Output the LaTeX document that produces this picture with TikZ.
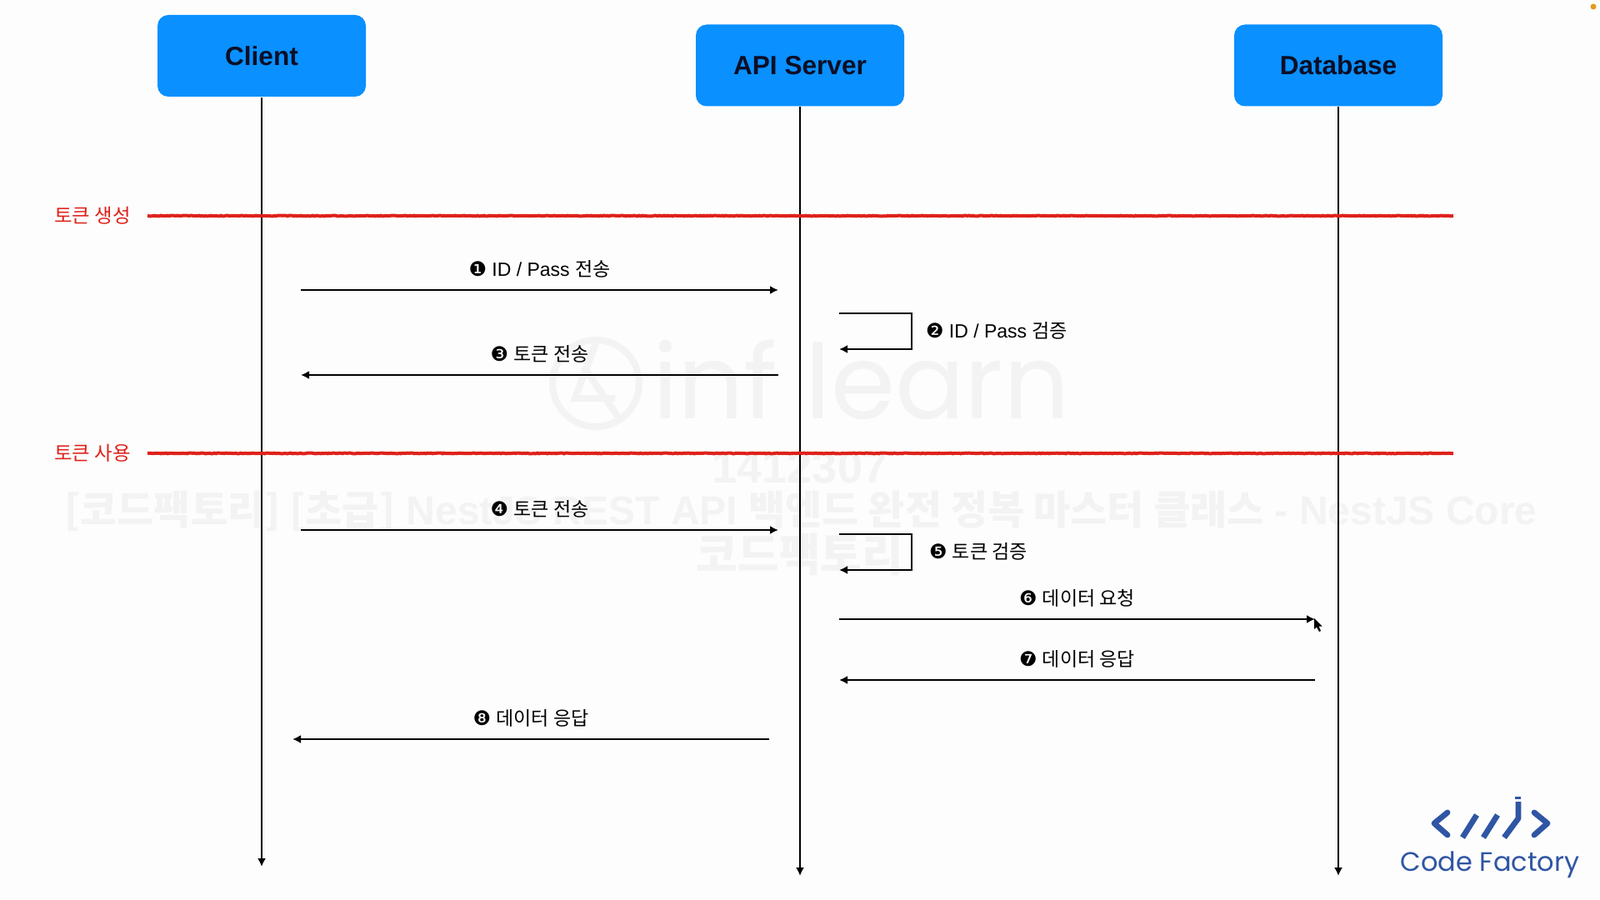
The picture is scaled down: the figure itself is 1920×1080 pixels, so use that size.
\documentclass[tikz,border=0pt]{standalone}
\usepackage{fontspec}
\setmainfont{Liberation Sans}
\setsansfont{Liberation Sans}
\newfontfamily\krfont{Noto Sans CJK KR}
\newfontfamily\symfont{DejaVu Sans}
\newfontfamily\logofont{Poppins}
\usetikzlibrary{arrows.meta, positioning, calc, decorations.pathmorphing}
\definecolor{cblue}{HTML}{0A90FF}
\definecolor{cred}{HTML}{DE221B}
\definecolor{cink}{HTML}{0B0F26}
\definecolor{clogo}{HTML}{2F55A4}
\definecolor{cpaper}{HTML}{FDFDFD}
\definecolor{cshade}{HTML}{F3F3F3}
\definecolor{cdot}{HTML}{E59A1E}
\newcommand{\kr}[1]{{\krfont #1}}
\newcommand{\circnum}[1]{{\symfont\fontsize{12}{14}\selectfont #1}}
\tikzset{
  every picture/.style={font=\sffamily, line width=1pt, x=0.5pt, y=-0.5pt},
  actor/.style={fill=cblue, rounded corners=6.5pt, minimum width=125pt, minimum height=49pt, inner sep=0pt, text=cink, font=\sffamily\bfseries\fontsize{15.8}{18}\selectfont},
  lifeline/.style={-{Latex[length=5pt, width=5pt]}, draw=black},
  arrow/.style={-{Latex[length=5pt, width=5pt]}, draw=black},
  phase/.style={draw=cred, line width=2pt, decorate, decoration={random steps, segment length=1pt, amplitude=0.2pt}},
  phaselabel/.style={text=cred, font=\krfont\fontsize{11.7}{14}\selectfont},
  msg/.style={font=\sffamily\fontsize{11.5}{14}\selectfont, inner sep=0pt},
  mark line/.style={draw=clogo, line width=3.4pt},
  wm/.style={text=cshade, font=\bfseries\fontsize{24}{28}\selectfont, inner sep=0pt},
}
\begin{document}
\begin{tikzpicture}
  \useasboundingbox (0,0) rectangle (1920,1080);
  \fill[cpaper] (0,0) rectangle (1920,1080);
  \fill[cdot] (1912,8) circle (3.5);
  % watermark
  \node[wm, font=\bfseries\fontsize{27}{30}\selectfont] (wmid) at (960,561) {1412307};
  \node[wm] (wmtitle) at (961,613) {\kr{\bfseries [코드팩토리] [초급]} NestJS REST API \kr{\bfseries 백엔드 완전 정복 마스터 클래스} - NestJS Core};
  \node[wm, font=\bfseries\fontsize{27}{30}\selectfont] (wmname) at (960,665) {\kr{\bfseries 코드팩토리}};
  \draw[cshade, line width=4pt] (715,460) circle (52);
  \draw[cshade, line width=4pt] (715,412) -- (690,478) -- (738,478) (700,440) -- (745,505);
  \node[cshade, font=\logofont\fontsize{62}{70}\selectfont, inner sep=0pt, anchor=west] (wmlogo) at (782,456) {inf learn};
  % actors
  \node[actor] (client) at (314,67) {Client};
  \node[actor] (api) at (960,78.5) {API Server};
  \node[actor] (db) at (1606,78.5) {Database};
  \coordinate (clientend) at (314,1040);
  \coordinate (apiend) at (960,1051);
  \coordinate (dbend) at (1606,1051);
  \draw[lifeline] (client) -- (clientend);
  \draw[lifeline] (api) -- (apiend);
  \draw[lifeline] (db) -- (dbend);
  % phases
  \foreach \n/\y/\t in {make/259/토큰 생성, use/544/토큰 사용} {
    \coordinate (\n a) at (177,\y); \coordinate (\n b) at (1744,\y);
    \draw[phase] (\n a) -- (\n b);
    \node[phaselabel] (\n label) at (111,\y) {\t};
  }
  % messages
  \foreach \n/\xa/\xb/\y/\t in {
    1/361/934/348/{\circnum{❶} ID / Pass \kr{전송}},
    3/934/361/450/{\circnum{❸} \kr{토큰 전송}},
    4/361/934/636/{\circnum{❹} \kr{토큰 전송}},
    6/1007/1578/743/{\circnum{❻} \kr{데이터 요청}},
    7/1578/1007/816/{\circnum{❼} \kr{데이터 응답}},
    8/923/351/887/{\circnum{❽} \kr{데이터 응답}}} {
    \coordinate (m\n a) at (\xa,\y); \coordinate (m\n b) at (\xb,\y);
    \draw[arrow] (m\n a) -- node[msg, midway, yshift=12.5pt] (m\n label) {\t} (m\n b);
  }
  % checks on the server
  \foreach \n/\ya/\yb/\xl/\t in {
    2/376/419/1110/{\circnum{❷} ID / Pass \kr{검증}},
    5/641/684/1114/{\circnum{❺} \kr{토큰 검증}}} {
    \coordinate (s\n a) at (1007,\ya); \coordinate (s\n b) at (1094,\ya);
    \coordinate (s\n c) at (1094,\yb); \coordinate (s\n d) at (1007,\yb);
    \draw[arrow] (s\n a) -- (s\n b) -- (s\n c) -- (s\n d);
    \node[msg, anchor=west] (s\n label) at (\xl,{(\ya+\yb)/2-1}) {\t};
  }
  % pointer
  \fill[black] (1577,742) -- (1577,755) -- (1580,752.5) -- (1583,758) -- (1585,757) -- (1582.5,751.5) -- (1586.5,751.5) -- cycle;
  % logo
  \draw[mark line, line cap=round, line join=round] (1737,975) -- (1721,988) -- (1737,1002);
  \draw[mark line, line cap=round, line join=round] (1841,975) -- (1857,988) -- (1841,1002);
  \draw[mark line] (1755,1005) -- (1772,978);
  \draw[mark line] (1780,1005) -- (1797,978);
  \draw[mark line, line join=round] (1805,1005) -- (1822,982) -- (1822,962);
  \fill[clogo] (1818,955.5) rectangle (1825,958.5);
  \node[text=clogo, font=\logofont\fontsize{16}{18}\selectfont, inner sep=0pt] (logotext) at (1788,1038) {Code Factory};
\end{tikzpicture}
\end{document}
